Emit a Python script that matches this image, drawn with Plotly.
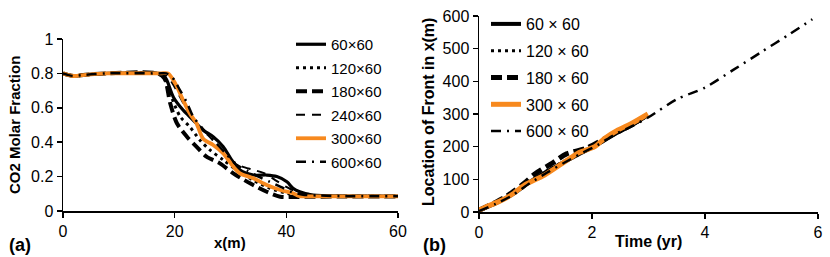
import plotly.graph_objects as go

# ---------------- Panel (a): CO2 molar fraction vs x ----------------
a_names = ["60×60", "120×60", "180×60", "240×60", "300×60", "600×60"]

a_x_60 = [0, 1, 2, 4, 8, 17, 18, 18.6, 19.8, 21.5, 23.3, 25.1, 26.9, 28.7, 30.2, 31.7, 34.1, 36.5, 38.3, 40.1, 41.2, 42.4, 44.8, 50, 60]
a_y_60 = [0.80, 0.79, 0.785, 0.792, 0.80, 0.80, 0.79, 0.76, 0.66, 0.587, 0.529, 0.47, 0.432, 0.374, 0.297, 0.238, 0.209, 0.209, 0.20, 0.17, 0.132, 0.112, 0.093, 0.087, 0.087]

a_x_120 = [0, 1, 2, 4, 8, 17, 18, 19.2, 21.0, 22.7, 24.5, 26.3, 28.7, 31.1, 34.0, 37.1, 40.1, 42.4, 50, 60]
a_y_120 = [0.80, 0.79, 0.785, 0.792, 0.80, 0.80, 0.78, 0.68, 0.548, 0.49, 0.413, 0.355, 0.297, 0.238, 0.18, 0.132, 0.103, 0.09, 0.086, 0.086]

a_x_180 = [0, 1, 2, 4, 8, 17, 18.2, 19.2, 20.4, 22.2, 23.9, 25.7, 28.1, 30.5, 33.5, 36.5, 38.9, 42, 50, 60]
a_y_180 = [0.80, 0.79, 0.785, 0.792, 0.80, 0.80, 0.77, 0.626, 0.51, 0.432, 0.374, 0.316, 0.277, 0.219, 0.161, 0.112, 0.083, 0.082, 0.084, 0.084]

a_x_240 = [0, 1, 2, 4, 8, 17, 18.5, 20, 22, 24, 26, 28, 30, 32, 34, 36, 38, 40, 42, 44, 46, 50, 60]
a_y_240 = [0.80, 0.79, 0.785, 0.792, 0.80, 0.80, 0.79, 0.72, 0.60, 0.50, 0.44, 0.37, 0.30, 0.26, 0.24, 0.22, 0.18, 0.14, 0.11, 0.10, 0.09, 0.086, 0.086]

a_x_300 = [0, 1, 2, 4, 8, 17.4, 18.8, 20.1, 21.5, 22.7, 23.9, 25.1, 26.9, 28.7, 30.5, 31.7, 34.1, 36.5, 38.9, 41.2, 42.4, 46, 60]
a_y_300 = [0.80, 0.79, 0.785, 0.792, 0.80, 0.80, 0.80, 0.742, 0.645, 0.568, 0.51, 0.42, 0.384, 0.335, 0.258, 0.219, 0.19, 0.151, 0.122, 0.103, 0.087, 0.085, 0.085]

a_x_600 = [0, 1, 2, 4, 8, 17, 18.5, 19.5, 21, 22.2, 23.3, 25, 27, 29, 31, 33, 35, 37, 39, 41, 43, 46, 50, 60]
a_y_600 = [0.80, 0.79, 0.785, 0.792, 0.80, 0.80, 0.80, 0.78, 0.70, 0.63, 0.55, 0.48, 0.41, 0.34, 0.27, 0.235, 0.20, 0.17, 0.14, 0.11, 0.095, 0.09, 0.086, 0.086]

# ---------------- Panel (b): front location vs time ----------------
b_names = ["60 × 60", "120 × 60", "180 × 60", "300 × 60", "600 × 60"]

b_t_60 = [0, 0.3, 0.6, 0.9, 1.2, 1.5, 1.8, 2.1, 2.4, 2.7, 2.95]
b_y_60 = [5, 27, 55, 92, 124, 152, 180, 207, 238, 265, 292]

b_t_120 = [0, 0.3, 0.6, 0.9, 1.2, 1.5, 1.8, 2.1, 2.4, 2.7, 2.95]
b_y_120 = [5, 26, 56, 93, 126, 155, 181, 206, 237, 264, 291]

b_t_180 = [0, 0.3, 0.45, 0.6, 0.8, 1.0, 1.3, 1.55, 1.9, 2.2, 2.5, 2.8, 2.95]
b_y_180 = [5, 30, 44, 62, 88, 118, 150, 178, 195, 222, 250, 278, 290]

b_t_300 = [0, 0.1, 0.34, 0.57, 0.81, 1.16, 1.52, 1.75, 2.05, 2.22, 2.46, 2.70, 2.99]
b_y_300 = [6, 14, 31, 52, 83, 113, 154, 180, 200, 225, 251, 271, 300]

b_t_600 = [0, 0.3, 0.6, 0.9, 1.2, 1.5, 1.8, 2.1, 2.4, 2.7, 3.0, 3.5, 4.0, 4.5, 5.0, 5.5, 5.9]
b_y_600 = [3, 25, 52, 88, 120, 150, 178, 205, 237, 262, 290, 345, 381, 435, 490, 545, 590]

FONT = "Liberation Sans, Arial, sans-serif"
ORANGE = "#F7891E"

a_styles = [
    dict(color="black", width=3.2, dash="solid"),
    dict(color="black", width=3, dash="3px,4px"),
    dict(color="black", width=4, dash="11px,5px"),
    dict(color="black", width=2, dash="9px,7px"),
    dict(color=ORANGE, width=3.8, dash="solid"),
    dict(color="black", width=2.5, dash="10px,6px,2px,6px"),
]
a_data = [(a_x_60, a_y_60), (a_x_120, a_y_120), (a_x_180, a_y_180),
          (a_x_240, a_y_240), (a_x_300, a_y_300), (a_x_600, a_y_600)]

b_styles = [
    dict(color="black", width=4, dash="solid"),
    dict(color="black", width=3, dash="3px,4px"),
    dict(color="black", width=5, dash="11px,5px"),
    dict(color=ORANGE, width=5, dash="solid"),
    dict(color="black", width=2.5, dash="10px,6px,2px,6px"),
]
b_data = [(b_t_60, b_y_60), (b_t_120, b_y_120), (b_t_180, b_y_180),
          (b_t_300, b_y_300), (b_t_600, b_y_600)]

fig = go.Figure()
for i, (name, (xs, ys), st) in enumerate(zip(a_names, a_data, a_styles)):
    fig.add_trace(go.Scatter(x=xs, y=ys, name=name, mode="lines", line=dict(**st, shape="spline", smoothing=0.8),
                             xaxis="x", yaxis="y", legend="legend", legendgroup="a%d" % i))
for i, (name, (xs, ys), st) in enumerate(zip(b_names, b_data, b_styles)):
    fig.add_trace(go.Scatter(x=xs, y=ys, name=name, mode="lines", line=dict(**st, shape="spline", smoothing=0.8),
                             xaxis="x2", yaxis="y2", legend="legend2", legendgroup="b%d" % i))

W, H = 830, 257
def px(x): return x / W
def py(y): return 1 - y / H

axis_common = dict(showline=True, linecolor="black", linewidth=1.5, ticks="outside", ticklen=5,
                   tickwidth=1.5, tickcolor="black", showgrid=False, zeroline=False, automargin=False,
                   tickfont=dict(family=FONT, size=16, color="black"), fixedrange=True)

def ann(text, x, y, size, angle=0):
    return dict(text=text, x=px(x), y=py(y), xref="paper", yref="paper", xanchor="center", yanchor="middle",
                textangle=angle, showarrow=False, font=dict(family=FONT, size=size, color="black"))

fig.update_layout(
    width=W, height=H, margin=dict(l=0, r=0, t=0, b=0, pad=0, autoexpand=False),
    paper_bgcolor="white", plot_bgcolor="white",
    font=dict(family=FONT, size=15, color="black"),
    xaxis=dict(domain=[px(63), px(398)], range=[0, 60], tickvals=[0, 20, 40, 60], anchor="y", **axis_common),
    yaxis=dict(domain=[py(211), py(39)], range=[0, 1], tickvals=[0, 0.2, 0.4, 0.6, 0.8, 1], anchor="x", **axis_common),
    xaxis2=dict(domain=[px(479), px(818)], range=[0, 6], tickvals=[0, 2, 4, 6], anchor="y2", **axis_common),
    yaxis2=dict(domain=[py(212), py(16)], range=[0, 600], tickvals=[0, 100, 200, 300, 400, 500, 600], anchor="x2", **axis_common),
    legend=dict(x=px(291), y=py(28), xanchor="left", yanchor="top", bgcolor="rgba(0,0,0,0)",
                font=dict(family=FONT, size=15, color="black"), tracegroupgap=1, itemwidth=30),
    legend2=dict(x=px(486), y=py(7), xanchor="left", yanchor="top", bgcolor="rgba(0,0,0,0)",
                 font=dict(family=FONT, size=16, color="black"), tracegroupgap=3, itemwidth=30),
    showlegend=True,
    annotations=[
        ann("<b>CO2 Molar Fraction</b>", 14, 125, 15, -90),
        ann("<b>x(m)</b>", 230, 242, 15),
        ann("<b>(a)</b>", 20, 245, 18),
        ann("<b>Location of Front in x(m)</b>", 428, 112, 16, -90),
        ann("<b>Time (yr)</b>", 648, 241, 16),
        ann("<b>(b)</b>", 434, 245, 18),
    ],
)

fig.write_html("out.html", config={"displayModeBar": False, "staticPlot": True},
               post_script="document.body.style.margin='0px';document.body.style.overflow='hidden';")
